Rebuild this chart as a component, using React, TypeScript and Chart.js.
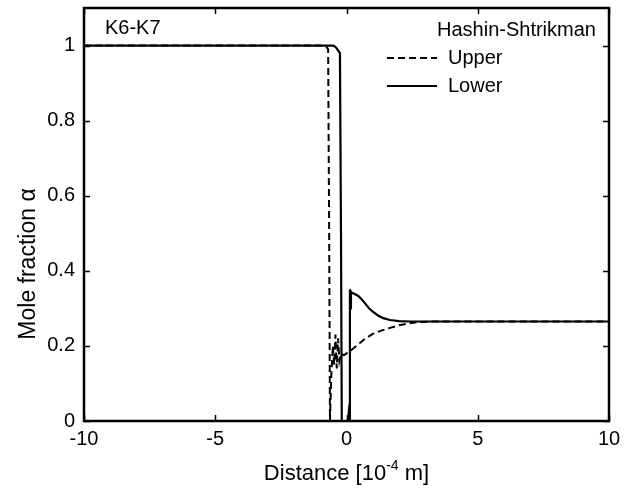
import React, { useEffect, useRef } from "react";
import { Chart, registerables } from "chart.js";

Chart.register(...registerables);

const upperX = [-10, -1.0, -0.75, -0.7, -0.66, -0.63, -0.58, -0.52, -0.47, -0.42, -0.37, -0.32, -0.27, -0.2, -0.1, 0, 0.2, 0.5, 0.7, 1.0, 1.3, 1.66, 2.0, 2.3, 2.7, 3.2, 10];
const upperY = [1, 1, 0.995, 0.99, 0.5, 0, 0.12, 0.2, 0.15, 0.23, 0.14, 0.22, 0.16, 0.18, 0.175, 0.18, 0.19, 0.207, 0.219, 0.232, 0.24, 0.248, 0.255, 0.259, 0.263, 0.265, 0.265];

const lowerX = [-10, -0.5, -0.4, -0.25, -0.21, -0.18, 0.05, 0.08, 0.11, 0.13, 0.15, 0.17, 0.2, 0.25, 0.35, 0.45, 0.55, 0.7, 0.85, 1.0, 1.2, 1.4, 1.66, 2.0, 2.4, 10];
const lowerY = [1, 1, 0.995, 0.98, 0.5, 0, 0, 0.02, 0, 0.35, 0.3, 0.345, 0.342, 0.34, 0.337, 0.333, 0.326, 0.314, 0.301, 0.291, 0.281, 0.274, 0.269, 0.266, 0.265, 0.265];

const xTicks = [-10, -5, 0, 5, 10];
const yTicks = [0, 0.2, 0.4, 0.6, 0.8, 1];

const xTitle = ["Distance [10", "-4", " m]"];
const yTitle = "Mole fraction \u03b1";
const panelLabel = "K6-K7";
const legendTitle = "Hashin-Shtrikman";
const seriesNames = ["Upper", "Lower"];

const FONT = "Liberation Sans, Arial, Helvetica, sans-serif";
const FS = 20;
const XTFS = 22;
const YTFS = 23;
const DASH = [7, 4];

function zip(xs: number[], ys: number[]) {
  return xs.map((x, i) => ({ x, y: ys[i] }));
}

const decor = {
  id: "decor",
  afterDraw(chart: any) {
    const ctx = chart.ctx;
    const { left, right, top, bottom } = chart.chartArea;
    const xs = chart.scales.x;
    const ys = chart.scales.y;
    ctx.save();
    ctx.strokeStyle = "#000";
    ctx.lineWidth = 2.5;
    ctx.setLineDash([]);
    ctx.strokeRect(left, top, right - left, bottom - top);
    ctx.lineWidth = 1.5;
    const tl = 6;
    ctx.beginPath();
    for (const v of yTicks) {
      const p = Math.round(ys.getPixelForValue(v)) + 0.5;
      ctx.moveTo(left, p); ctx.lineTo(left + tl, p);
      ctx.moveTo(right, p); ctx.lineTo(right - tl, p);
    }
    for (const v of xTicks) {
      const p = Math.round(xs.getPixelForValue(v)) + 0.5;
      ctx.moveTo(p, bottom); ctx.lineTo(p, bottom - tl);
      ctx.moveTo(p, top); ctx.lineTo(p, top + tl);
    }
    ctx.stroke();

    ctx.fillStyle = "#000";
    ctx.font = `${FS}px ${FONT}`;
    ctx.textBaseline = "middle";
    ctx.textAlign = "left";
    ctx.fillText(panelLabel, left + 21, 28);
    ctx.fillText(legendTitle, 437, 30);
    ctx.fillText(seriesNames[0], 448, 58);
    ctx.fillText(seriesNames[1], 448, 86);
    ctx.lineWidth = 2;
    ctx.setLineDash(DASH);
    ctx.beginPath(); ctx.moveTo(387, 58); ctx.lineTo(437, 58); ctx.stroke();
    ctx.setLineDash([]);
    ctx.beginPath(); ctx.moveTo(387, 86); ctx.lineTo(437, 86); ctx.stroke();

    // x title with superscript
    const cx = (left + right) / 2;
    const y0 = 473;
    const sfs = Math.round(XTFS * 0.65);
    ctx.font = `${XTFS}px ${FONT}`;
    const w1 = ctx.measureText(xTitle[0]).width;
    const w3 = ctx.measureText(xTitle[2]).width;
    ctx.font = `${sfs}px ${FONT}`;
    const w2 = ctx.measureText(xTitle[1]).width;
    let x = cx - (w1 + w2 + w3) / 2;
    ctx.textBaseline = "alphabetic";
    ctx.font = `${XTFS}px ${FONT}`;
    ctx.fillText(xTitle[0], x, y0 + 7);
    x += w1;
    ctx.font = `${sfs}px ${FONT}`;
    ctx.fillText(xTitle[1], x, y0 - 3);
    x += w2;
    ctx.font = `${XTFS}px ${FONT}`;
    ctx.fillText(xTitle[2], x, y0 + 7);

    // y title
    ctx.save();
    ctx.translate(29, 264);
    ctx.rotate(-Math.PI / 2);
    ctx.textAlign = "center";
    ctx.textBaseline = "middle";
    ctx.font = `${YTFS}px ${FONT}`;
    ctx.fillText(yTitle, 0, 0);
    ctx.restore();
    ctx.restore();
  },
};

export default function App() {
  const ref = useRef<HTMLCanvasElement | null>(null);
  useEffect(() => {
    if (!ref.current) return;
    const chart = new Chart(ref.current, {
      type: "line",
      data: {
        datasets: [
          {
            label: seriesNames[0],
            data: zip(upperX, upperY),
            borderColor: "#000",
            borderWidth: 2,
            borderDash: DASH,
            pointRadius: 0,
            fill: false,
            tension: 0,
          },
          {
            label: seriesNames[1],
            data: zip(lowerX, lowerY),
            borderColor: "#000",
            borderWidth: 2.2,
            pointRadius: 0,
            fill: false,
            tension: 0,
          },
        ],
      },
      options: {
        animation: false,
        responsive: false,
        maintainAspectRatio: false,
        layout: { padding: { left: 0, top: 8, right: 31, bottom: 0 } },
        plugins: { legend: { display: false }, tooltip: { enabled: false } },
        scales: {
          x: {
            type: "linear",
            min: -10,
            max: 10,
            afterBuildTicks: (s: any) => { s.ticks = xTicks.map((v) => ({ value: v })); },
            afterFit: (s: any) => { s.height = 70; s.paddingLeft = 0; s.paddingRight = 0; },
            grid: { display: false, drawTicks: false },
            border: { display: false },
            ticks: {
              color: "#000",
              font: { size: FS, family: FONT },
              padding: 6,
              maxRotation: 0,
              callback: (v: any) => String(v),
            },
          },
          y: {
            type: "linear",
            min: 0,
            max: 1.1,
            afterBuildTicks: (s: any) => { s.ticks = yTicks.map((v) => ({ value: v })); },
            afterFit: (s: any) => { s.width = 84; s.paddingTop = 0; s.paddingBottom = 0; },
            grid: { display: false, drawTicks: false },
            border: { display: false },
            ticks: {
              color: "#000",
              font: { size: FS, family: FONT },
              padding: 9,
              callback: (v: any) => String(Math.round(v * 10) / 10),
            },
          },
        },
      },
      plugins: [decor],
    });
    return () => chart.destroy();
  }, []);
  return (
    <div style={{ position: "absolute", left: 0, top: 0, width: 640, height: 491, background: "#fff" }}>
      <canvas ref={ref} width={640} height={491} style={{ width: 640, height: 491 }} />
    </div>
  );
}
